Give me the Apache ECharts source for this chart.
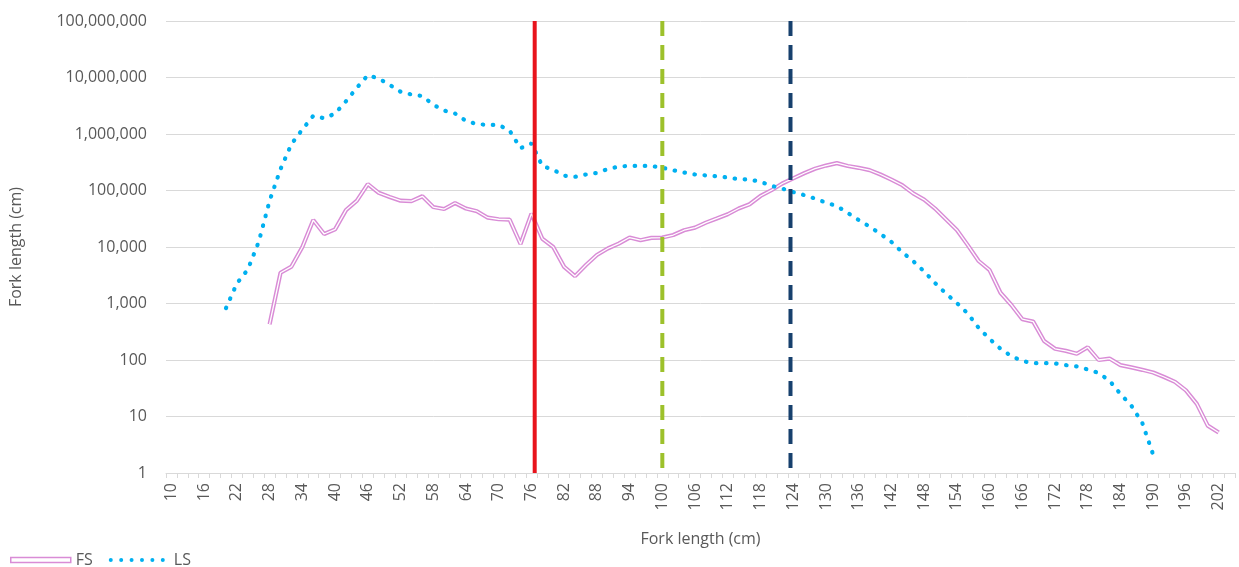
<!DOCTYPE html>
<html>
<head>
<meta charset="utf-8">
<script src="https://cdn.jsdelivr.net/npm/echarts@6/dist/echarts.min.js"></script>
<style>
html,body{margin:0;padding:0;background:#fff;}
#chart{width:1239px;height:567px;}
</style>
</head>
<body>
<div id="chart"></div>
<script>
// Fork length categories (cm), every 2 cm
const categories = ['10','12','14','16','18','20','22','24','26','28','30','32','34','36','38','40','42','44','46','48','50','52','54','56','58','60','62','64','66','68','70','72','74','76','78','80','82','84','86','88','90','92','94','96','98','100','102','104','106','108','110','112','114','116','118','120','122','124','126','128','130','132','134','136','138','140','142','144','146','148','150','152','154','156','158','160','162','164','166','168','170','172','174','176','178','180','182','184','186','188','190','192','194','196','198','200','202','204'];

// FS: 28 cm .. 202 cm
const fsStart = '28';
const fsValues = [430,3500,4500,10000,30000,17000,20500,45000,66000,130000,
  91000,77000,66000,65000,79000,51000,47000,60000,48000,43000,
  33000,31000,30500,11300,39000,14000,10000,4450,3050,4800,
  7200,9400,11500,14700,13200,14500,14700,16300,19800,22000,
  27000,32000,38000,48000,57000,80000,101000,133000,164000,202000,
  243000,276000,305000,272000,252000,229000,192000,156000,124000,89000,
  69000,48000,31000,20000,10800,5650,3900,1550,940,527,
  478,217,158,145,129,168,100,106,81,74,
  67,60,50,41,29,16.7,6.9,5.2];

// LS: 20 cm .. 190 cm
const lsStart = '20';
const lsValues = [830,2270,4000,12300,66000,240000,665000,1200000,2100000,1900000,
  2300000,3800000,6600000,11000000,9600000,7400000,5600000,5000000,4700000,3300000,
  2600000,2300000,1700000,1500000,1450000,1450000,1150000,560000,680000,272000,
  233000,183000,175000,192000,205000,240000,265000,272000,272000,272000,
  253000,228000,208000,192000,185000,178000,170000,159000,156000,143000,
  121000,108000,94000,83000,72000,61000,53000,40000,30000,23000,
  17000,12300,8100,5600,3700,2300,1500,1020,665,370,
  236,158,117,96,88,88,87,81,77,68,
  59,43,25,15.5,7.7,2.1];

// Reference lengths (cm) drawn as vertical lines
const refLines = [76.6, 100.0, 123.5];
const refColors = ['#E8141C', '#9DC12B', '#17406D'];
const refTypes = ['solid', [15, 9], [15, 9]];

const yTicks = [1, 10, 100, 1000, 10000, 100000, 1000000, 10000000, 100000000];

function align(startCat, vals) {
  const out = categories.map(() => null);
  const s = categories.indexOf(startCat);
  vals.forEach((v, i) => { out[s + i] = v; });
  return out;
}
const fsData = align(fsStart, fsValues);
const lsData = align(lsStart, lsValues);

const FONT = '"Open Sans", "Noto Sans", sans-serif';
const TXT = '#595959';
const GRID = '#D9D9D9';
const PINK = '#D98CD6';
const BLUE = '#00B0F0';

const lsIcon = 'path://M0,2a2,2 0 1,0 4,0a2,2 0 1,0 -4,0Z' +
  'M10.4,2a2,2 0 1,0 4,0a2,2 0 1,0 -4,0Z' +
  'M20.8,2a2,2 0 1,0 4,0a2,2 0 1,0 -4,0Z' +
  'M31.2,2a2,2 0 1,0 4,0a2,2 0 1,0 -4,0Z' +
  'M41.6,2a2,2 0 1,0 4,0a2,2 0 1,0 -4,0Z' +
  'M52,2a2,2 0 1,0 4,0a2,2 0 1,0 -4,0Z' +
  'M60,2L60,2.01';

const series = [
  { name: 'FS', type: 'line', data: fsData, showSymbol: false, symbol: 'none',
    lineStyle: { color: PINK, width: 4.2 }, itemStyle: { color: PINK }, z: 2 },
  { name: 'FS-inner', type: 'line', data: fsData, showSymbol: false, symbol: 'none',
    lineStyle: { color: '#ffffff', width: 1.3 }, z: 3, silent: true },
  { name: 'LS', type: 'line', data: lsData, showSymbol: false, symbol: 'none',
    lineStyle: { color: BLUE, width: 4.2, type: [0.5, 9.6], cap: 'round' },
    itemStyle: { color: BLUE }, z: 4 }
];
refLines.forEach((p, i) => {
  series.push({
    name: 'ref' + i, type: 'line', xAxisIndex: 1, yAxisIndex: 0,
    data: [[p, yTicks[yTicks.length - 1]], [p, yTicks[0]]],
    showSymbol: false, symbol: 'none', silent: true, z: 5,
    lineStyle: { color: refColors[i], width: 4, type: refTypes[i], cap: 'butt' }
  });
});

const chart = echarts.init(document.getElementById('chart'), null, { renderer: 'canvas' });
chart.setOption({
  animation: false,
  backgroundColor: '#ffffff',
  textStyle: { fontFamily: FONT },
  grid: { left: 164, right: 4, top: 21, bottom: 94, containLabel: false },
  legend: {
    left: 5, top: 547, itemWidth: 60, itemHeight: 5, itemGap: 16,
    textStyle: { fontFamily: FONT, fontSize: 16, color: TXT },
    data: [
      { name: 'FS', icon: 'rect', itemStyle: { color: '#ffffff', borderColor: PINK, borderWidth: 1.5 } },
      { name: 'LS', icon: lsIcon, itemStyle: { color: BLUE, borderWidth: 0 } }
    ]
  },
  xAxis: [
    {
      type: 'category', data: categories, boundaryGap: true,
      name: 'Fork length (cm)', nameLocation: 'middle', nameGap: 58,
      nameTextStyle: { fontFamily: FONT, fontSize: 16, color: TXT },
      axisLine: { show: true, lineStyle: { color: GRID, width: 1 } },
      axisTick: { show: true, interval: 0, length: 5, lineStyle: { color: GRID } },
      axisLabel: { interval: 2, rotate: 90, margin: 10, fontFamily: FONT, fontSize: 16, color: TXT },
      splitLine: { show: false }
    },
    { type: 'value', min: 9, max: 205, show: false }
  ],
  yAxis: {
    type: 'log', logBase: 10, min: 1, max: 100000000,
    name: 'Fork length (cm)', nameLocation: 'middle', nameGap: 142, nameRotate: 90,
    nameTextStyle: { fontFamily: FONT, fontSize: 16, color: TXT },
    axisLine: { show: false }, axisTick: { show: false },
    axisLabel: { margin: 19, fontFamily: FONT, fontSize: 16, color: TXT,
      formatter: v => Math.round(v).toLocaleString('en-US') },
    splitLine: { show: true, lineStyle: { color: GRID, width: 1 } }
  },
  series: series
});
</script>
</body>
</html>
